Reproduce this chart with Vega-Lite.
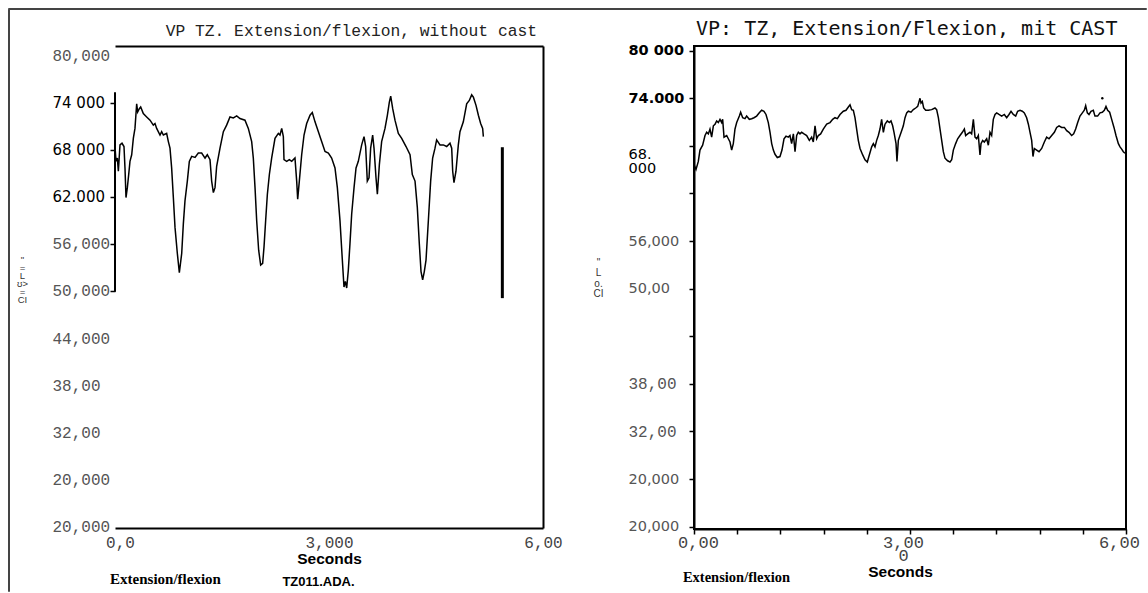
{
"$schema": "https://vega.github.io/schema/vega-lite/v6.json",
"padding": {"left": 7, "top": 7, "right": 0, "bottom": 0},
"config": {"view": {"stroke": null}, "axis": {"grid": false, "labelOverlap": false, "labelFlush": false}, "concat": {"spacing": 0}},
"datasets": {
"left": [
{"t":0.000,"v":68419},{"t":0.014,"v":66531},{"t":0.033,"v":66950},{"t":0.047,"v":65272},{"t":0.070,"v":68628},{"t":0.098,"v":68838},{"t":0.126,"v":68419},{"t":0.140,"v":65692},{"t":0.154,"v":61915},{"t":0.173,"v":63174},{"t":0.192,"v":64853},{"t":0.210,"v":66531},{"t":0.234,"v":67370},{"t":0.257,"v":69468},{"t":0.280,"v":70727},{"t":0.304,"v":73874},{"t":0.318,"v":72825},{"t":0.341,"v":73244},{"t":0.360,"v":73454},{"t":0.397,"v":72615},{"t":0.444,"v":72195},{"t":0.491,"v":71776},{"t":0.537,"v":71146},{"t":0.561,"v":71356},{"t":0.584,"v":70727},{"t":0.631,"v":69888},{"t":0.654,"v":70307},{"t":0.678,"v":69888},{"t":0.724,"v":70097},{"t":0.748,"v":69048},{"t":0.771,"v":68209},{"t":0.794,"v":65692},{"t":0.818,"v":61915},{"t":0.841,"v":58139},{"t":0.874,"v":54782},{"t":0.902,"v":52348},{"t":0.935,"v":54782},{"t":0.958,"v":58558},{"t":0.981,"v":61496},{"t":1.014,"v":64013},{"t":1.042,"v":66531},{"t":1.075,"v":67160},{"t":1.122,"v":67034},{"t":1.168,"v":67580},{"t":1.215,"v":67580},{"t":1.262,"v":66950},{"t":1.294,"v":67370},{"t":1.332,"v":66740},{"t":1.355,"v":64013},{"t":1.379,"v":62544},{"t":1.402,"v":63174},{"t":1.425,"v":65901},{"t":1.472,"v":68209},{"t":1.519,"v":70307},{"t":1.565,"v":71146},{"t":1.612,"v":72195},{"t":1.659,"v":72069},{"t":1.706,"v":72321},{"t":1.752,"v":71985},{"t":1.822,"v":71776},{"t":1.869,"v":70727},{"t":1.916,"v":69048},{"t":1.939,"v":66950},{"t":1.963,"v":63174},{"t":1.986,"v":58978},{"t":2.014,"v":55202},{"t":2.042,"v":53313},{"t":2.070,"v":53523},{"t":2.089,"v":55621},{"t":2.112,"v":58978},{"t":2.136,"v":62335},{"t":2.164,"v":64853},{"t":2.196,"v":66950},{"t":2.243,"v":69468},{"t":2.290,"v":70097},{"t":2.313,"v":69888},{"t":2.337,"v":70727},{"t":2.360,"v":69678},{"t":2.369,"v":66741},{"t":2.407,"v":66531},{"t":2.444,"v":66741},{"t":2.477,"v":66531},{"t":2.523,"v":66950},{"t":2.547,"v":64013},{"t":2.561,"v":61705},{"t":2.584,"v":64013},{"t":2.617,"v":67370},{"t":2.650,"v":69888},{"t":2.687,"v":71356},{"t":2.734,"v":72405},{"t":2.766,"v":72741},{"t":2.804,"v":71566},{"t":2.851,"v":70307},{"t":2.897,"v":69048},{"t":2.944,"v":67790},{"t":2.991,"v":67580},{"t":3.037,"v":66950},{"t":3.084,"v":65692},{"t":3.117,"v":63174},{"t":3.154,"v":58978},{"t":3.187,"v":53943},{"t":3.210,"v":50502},{"t":3.229,"v":51215},{"t":3.248,"v":50376},{"t":3.271,"v":52683},{"t":3.294,"v":56040},{"t":3.318,"v":59817},{"t":3.351,"v":63174},{"t":3.379,"v":65692},{"t":3.411,"v":66531},{"t":3.458,"v":68629},{"t":3.491,"v":69678},{"t":3.514,"v":68419},{"t":3.537,"v":64013},{"t":3.561,"v":64433},{"t":3.584,"v":68209},{"t":3.612,"v":69888},{"t":3.631,"v":68209},{"t":3.659,"v":64433},{"t":3.678,"v":62335},{"t":3.706,"v":66111},{"t":3.738,"v":69048},{"t":3.785,"v":70727},{"t":3.818,"v":72405},{"t":3.846,"v":74083},{"t":3.865,"v":74839},{"t":3.893,"v":73244},{"t":3.925,"v":71776},{"t":3.972,"v":70097},{"t":4.019,"v":69468},{"t":4.080,"v":68419},{"t":4.136,"v":67370},{"t":4.168,"v":64853},{"t":4.206,"v":64013},{"t":4.238,"v":60657},{"t":4.266,"v":56040},{"t":4.290,"v":52474},{"t":4.313,"v":51425},{"t":4.336,"v":52474},{"t":4.360,"v":53943},{"t":4.393,"v":58978},{"t":4.425,"v":64013},{"t":4.453,"v":66950},{"t":4.486,"v":68209},{"t":4.509,"v":69258},{"t":4.556,"v":68629},{"t":4.603,"v":68629},{"t":4.650,"v":68419},{"t":4.696,"v":68839},{"t":4.720,"v":68209},{"t":4.734,"v":65272},{"t":4.752,"v":63804},{"t":4.780,"v":65272},{"t":4.813,"v":68629},{"t":4.836,"v":70307},{"t":4.883,"v":71566},{"t":4.930,"v":73874},{"t":4.967,"v":74293},{"t":5.000,"v":75007},{"t":5.024,"v":74713},{"t":5.061,"v":73664},{"t":5.094,"v":72405},{"t":5.126,"v":71356},{"t":5.154,"v":70727},{"t":5.164,"v":69678}
],
"right": [
{"t":0.000,"v":65632},{"t":0.028,"v":65020},{"t":0.060,"v":66040},{"t":0.083,"v":67469},{"t":0.120,"v":68081},{"t":0.153,"v":69306},{"t":0.176,"v":69714},{"t":0.199,"v":69510},{"t":0.222,"v":70122},{"t":0.245,"v":69102},{"t":0.269,"v":70531},{"t":0.292,"v":70735},{"t":0.315,"v":71143},{"t":0.338,"v":70939},{"t":0.361,"v":71347},{"t":0.384,"v":70939},{"t":0.398,"v":71347},{"t":0.417,"v":69102},{"t":0.454,"v":69306},{"t":0.477,"v":68898},{"t":0.500,"v":68490},{"t":0.523,"v":67469},{"t":0.546,"v":68286},{"t":0.569,"v":70122},{"t":0.593,"v":70939},{"t":0.630,"v":71755},{"t":0.648,"v":72245},{"t":0.676,"v":71551},{"t":0.708,"v":71429},{"t":0.731,"v":71755},{"t":0.768,"v":71347},{"t":0.801,"v":71429},{"t":0.833,"v":71551},{"t":0.870,"v":71755},{"t":0.907,"v":72163},{"t":0.940,"v":72490},{"t":0.972,"v":72367},{"t":1.000,"v":71959},{"t":1.032,"v":70939},{"t":1.056,"v":69714},{"t":1.079,"v":68286},{"t":1.102,"v":67469},{"t":1.125,"v":66939},{"t":1.157,"v":66530},{"t":1.194,"v":66653},{"t":1.222,"v":67469},{"t":1.250,"v":68898},{"t":1.278,"v":69224},{"t":1.310,"v":69102},{"t":1.333,"v":69306},{"t":1.356,"v":68286},{"t":1.380,"v":69510},{"t":1.403,"v":67265},{"t":1.426,"v":69306},{"t":1.449,"v":69714},{"t":1.472,"v":69510},{"t":1.495,"v":69714},{"t":1.528,"v":69510},{"t":1.565,"v":69306},{"t":1.602,"v":68694},{"t":1.634,"v":69102},{"t":1.657,"v":68490},{"t":1.681,"v":70531},{"t":1.704,"v":68898},{"t":1.727,"v":69306},{"t":1.759,"v":69510},{"t":1.796,"v":70122},{"t":1.843,"v":70735},{"t":1.889,"v":70939},{"t":1.926,"v":71347},{"t":1.958,"v":71551},{"t":1.991,"v":71429},{"t":2.028,"v":71959},{"t":2.074,"v":72367},{"t":2.111,"v":72490},{"t":2.144,"v":72898},{"t":2.167,"v":73184},{"t":2.190,"v":72571},{"t":2.213,"v":72490},{"t":2.236,"v":71551},{"t":2.259,"v":70122},{"t":2.282,"v":68694},{"t":2.306,"v":67673},{"t":2.343,"v":66857},{"t":2.375,"v":66245},{"t":2.407,"v":65959},{"t":2.435,"v":66857},{"t":2.468,"v":67878},{"t":2.491,"v":68286},{"t":2.514,"v":67878},{"t":2.537,"v":68694},{"t":2.560,"v":69306},{"t":2.583,"v":70122},{"t":2.606,"v":71347},{"t":2.630,"v":69714},{"t":2.653,"v":70735},{"t":2.685,"v":71143},{"t":2.713,"v":70939},{"t":2.736,"v":71143},{"t":2.759,"v":70531},{"t":2.778,"v":69714},{"t":2.806,"v":68286},{"t":2.819,"v":66040},{"t":2.838,"v":68694},{"t":2.861,"v":69306},{"t":2.884,"v":69918},{"t":2.907,"v":70531},{"t":2.931,"v":71551},{"t":2.954,"v":72163},{"t":2.977,"v":72367},
{"t":3.014,"v":72245},{"t":3.046,"v":72571},{"t":3.079,"v":72776},{"t":3.107,"v":72980},{"t":3.139,"v":74000},{"t":3.153,"v":73388},{"t":3.171,"v":73592},{"t":3.190,"v":72776},{"t":3.218,"v":72490},{"t":3.255,"v":72490},{"t":3.301,"v":72571},{"t":3.347,"v":72776},{"t":3.370,"v":72571},{"t":3.394,"v":71551},{"t":3.417,"v":70122},{"t":3.440,"v":68694},{"t":3.463,"v":67265},{"t":3.486,"v":66449},{"t":3.523,"v":66122},{"t":3.556,"v":65959},{"t":3.579,"v":66245},{"t":3.602,"v":67469},{"t":3.634,"v":68286},{"t":3.662,"v":68898},{"t":3.694,"v":69306},{"t":3.727,"v":69714},{"t":3.755,"v":70122},{"t":3.773,"v":69306},{"t":3.801,"v":69510},{"t":3.833,"v":69714},{"t":3.856,"v":69510},{"t":3.880,"v":71347},{"t":3.903,"v":69102},{"t":3.926,"v":68898},{"t":3.949,"v":69306},{"t":3.972,"v":66857},{"t":3.986,"v":68286},{"t":4.009,"v":68694},{"t":4.032,"v":68490},{"t":4.065,"v":68898},{"t":4.088,"v":68081},{"t":4.111,"v":69714},{"t":4.134,"v":69306},{"t":4.157,"v":71347},{"t":4.181,"v":71959},{"t":4.204,"v":72163},{"t":4.236,"v":71959},{"t":4.273,"v":71755},{"t":4.310,"v":71959},{"t":4.343,"v":71551},{"t":4.375,"v":71959},{"t":4.403,"v":72367},{"t":4.435,"v":71959},{"t":4.468,"v":71755},{"t":4.495,"v":72367},{"t":4.528,"v":72490},{"t":4.560,"v":72367},{"t":4.588,"v":72163},{"t":4.620,"v":71551},{"t":4.644,"v":70735},{"t":4.667,"v":69714},{"t":4.690,"v":68694},{"t":4.708,"v":66653},{"t":4.727,"v":67673},{"t":4.759,"v":67469},{"t":4.792,"v":67265},{"t":4.829,"v":67673},{"t":4.866,"v":68490},{"t":4.898,"v":69102},{"t":4.931,"v":68898},{"t":4.968,"v":69306},{"t":5.005,"v":69714},{"t":5.037,"v":70326},{"t":5.070,"v":70531},{"t":5.106,"v":70326},{"t":5.144,"v":70326},{"t":5.176,"v":69918},{"t":5.208,"v":69714},{"t":5.245,"v":69306},{"t":5.273,"v":69510},{"t":5.301,"v":70122},{"t":5.329,"v":70939},{"t":5.361,"v":71755},{"t":5.394,"v":72163},{"t":5.421,"v":72490},{"t":5.440,"v":73061},{"t":5.463,"v":72163},{"t":5.486,"v":71959},{"t":5.514,"v":72367},{"t":5.546,"v":72490},{"t":5.569,"v":71755},{"t":5.606,"v":71755},{"t":5.639,"v":72163},{"t":5.671,"v":72245},{"t":5.699,"v":72490},{"t":5.722,"v":72980},{"t":5.745,"v":72490},{"t":5.773,"v":72245},{"t":5.801,"v":71347},{"t":5.833,"v":70326},{"t":5.861,"v":69306},{"t":5.894,"v":68286},{"t":5.917,"v":67878},{"t":5.940,"v":67592},{"t":5.963,"v":67265},{"t":5.986,"v":67061}
],
"leftbar": [{"t": 5.43, "v": 49090, "v2": 68330}],
"leftaxis": [{"t": 0, "v": 49900, "v2": 75340}],
"dot": [{"t": 5.671, "v": 74000}]
},
"vconcat": [
{"width": 1138, "height": 1, "data": {"values": []}, "mark": "rule", "encoding": {}, "view": {"stroke": "#444", "strokeWidth": 1}},
{"hconcat": [
  {"width": 1, "height": 582, "data": {"values": []}, "mark": "rule", "encoding": {}, "view": {"stroke": "#444", "strokeWidth": 1}},
  {"vconcat": [
    {"width": 1, "height": 1, "data": {"values": []}, "mark": "rule", "encoding": {}},
    {"hconcat": [
      {
        "width": 428, "height": 482,
        "title": {"text": "VP TZ. Extension/flexion, without cast", "anchor": "end", "frame": "group", "dx": -6, "font": "Liberation Mono", "fontSize": 16.3, "fontWeight": "normal", "color": "#222", "offset": 7},
        "layer": [
          {"data": {"name": "left"}, "mark": {"type": "line", "color": "#000", "strokeWidth": 1.5},
           "encoding": {
             "x": {"field": "t", "type": "quantitative", "scale": {"domain": [0, 6], "nice": false},
                   "axis": {"orient": "bottom", "values": [0, 3, 6], "labelExpr": "datum.value==0?'0,0':datum.value==3?'3,000':'6,00'", "ticks": false, "domainColor": "#000", "domainWidth": 2, "labelFont": "Liberation Mono", "labelFontSize": 16, "labelColor": "#444", "labelPadding": 6, "labelOffset": {"condition": {"test": "datum.value==0", "value": 5}, "value": 0}, "title": "Seconds", "titleFont": "Liberation Sans", "titleFontSize": 15.5, "titleFontWeight": "bold", "titleColor": "#000", "titlePadding": 1}},
             "y": {"field": "v", "type": "quantitative", "scale": {"domain": [19783, 81236], "nice": false, "zero": false},
                   "axis": {"orient": "left", "values": [20000, 26000, 32000, 38000, 44000, 50000, 56000, 62000, 68000, 74000, 80000],
                            "labelExpr": "datum.value==80000?'80,000':datum.value==74000?'74 000':datum.value==68000?'68 000':datum.value==62000?'62.000':datum.value==56000?'56,000':datum.value==50000?'50,000':datum.value==44000?'44,000':datum.value==38000?'38,00':datum.value==32000?'32,00':'20,000'",
                            "domain": false, "tickSize": 5, "tickWidth": 1.5,
                            "tickColor": {"condition": {"test": "datum.value>=50000 && datum.value<=74000", "value": "#000"}, "value": "transparent"},
                            "labelAlign": "left", "labelPadding": 58,
                            "labelFont": {"condition": {"test": "datum.value>=62000 && datum.value<=74000", "value": "DejaVu Sans"}, "value": "Liberation Mono"},
                            "labelFontSize": {"condition": {"test": "datum.value>=62000 && datum.value<=74000", "value": 15}, "value": 16},
                            "labelColor": {"condition": {"test": "datum.value>=62000 && datum.value<=74000", "value": "#000"}, "value": "#555"},
                            "title": ["\"", "=", "L", "ʊ>", "=", "CI"], "titleAngle": 360, "titleFont": "Liberation Sans", "titleFontSize": 9.5, "titleFontWeight": "normal", "titleLineHeight": 8, "titleX": -93, "titleY": 208, "titleAlign": "center", "titleBaseline": "top", "titleColor": "#333"}}
           }},
          {"data": {"name": "leftbar"}, "mark": {"type": "rule", "color": "#000", "strokeWidth": 3},
           "encoding": {
             "x": {"field": "t", "type": "quantitative", "scale": {"domain": [0, 6], "nice": false},
                   "axis": {"orient": "top", "domainColor": "#000", "domainWidth": 2, "ticks": false, "labels": false, "title": "Extension/flexion", "titleFont": "Liberation Serif", "titleFontWeight": "bold", "titleFontSize": 15, "titleColor": "#000", "titleX": 50, "titleY": 532, "titleAlign": "center", "titleBaseline": "middle", "titleAngle": 360}},
             "y": {"field": "v", "type": "quantitative", "scale": {"domain": [19783, 81236], "nice": false, "zero": false},
                   "axis": {"orient": "right", "domainColor": "#000", "domainWidth": 2, "ticks": false, "labels": false, "title": "TZ011.ADA.", "titleFont": "'Liberation Sans Narrow', 'Liberation Sans'", "titleFontWeight": "bold", "titleFontSize": 13, "titleColor": "#000", "titleX": -225, "titleY": 535, "titleAngle": 360, "titleAlign": "center", "titleBaseline": "middle"}},
             "y2": {"field": "v2"}
           }},
          {"data": {"name": "leftaxis"}, "mark": {"type": "rule", "color": "#000", "strokeWidth": 2},
           "encoding": {
             "x": {"field": "t", "type": "quantitative", "scale": {"domain": [0, 6], "nice": false}, "axis": null},
             "y": {"field": "v", "type": "quantitative", "scale": {"domain": [19783, 81236], "nice": false, "zero": false}, "axis": null},
             "y2": {"field": "v2"}
           }}
        ],
        "resolve": {"axis": {"x": "independent", "y": "independent"}}
      },
      {
        "width": 432, "height": 483,
        "view": {"stroke": "#000", "strokeWidth": 2},
        "title": {"text": "VP: TZ, Extension/Flexion, mit CAST", "anchor": "start", "frame": "group", "dx": 2, "font": "DejaVu Sans Mono", "fontSize": 20, "fontWeight": "normal", "color": "#111", "offset": 3.5},
        "layer": [
          {"data": {"name": "right"}, "mark": {"type": "line", "color": "#000", "strokeWidth": 1.5},
           "encoding": {
             "x": {"field": "t", "type": "quantitative", "scale": {"domain": [0, 6], "nice": false},
                   "axis": {"orient": "bottom", "values": [0, 0.6, 1.2, 1.8, 2.4, 3, 3.6, 4.2, 4.8, 5.4, 6], "labelExpr": "datum.value==0?'0,00':datum.value==3?['3,00','0']:datum.value==6?'6,00':''", "tickSize": 5, "tickWidth": 1.5, "tickColor": "#000", "domainColor": "#000", "domainWidth": 2, "labelFont": "Liberation Mono", "labelFontSize": 17, "labelColor": "#444", "labelPadding": 0, "labelLineHeight": 13, "labelOffset": {"condition": {"test": "datum.value==0", "value": 4}, "value": -7}, "title": "Seconds", "titleFont": "Liberation Sans", "titleFontSize": 15.5, "titleFontWeight": "bold", "titleColor": "#000", "titlePadding": 1, "titleX": 206}},
             "y": {"field": "v", "type": "quantitative", "scale": {"domain": [19698, 80592], "nice": false, "zero": false},
                   "axis": {"orient": "left", "values": [20000, 26000, 32000, 38000, 44000, 50000, 56000, 62000, 68000, 74000, 80000],
                            "labelExpr": "datum.value==80000?'80 000':datum.value==74000?'74.000':datum.value==68000?['68.','000']:datum.value==56000?'56,000':datum.value==50000?'50,00':datum.value==38000?'38,00':datum.value==32000?'32,00':(datum.value==26000||datum.value==20000)?'20,000':''",
                            "domainColor": "#000", "domainWidth": 2, "tickSize": 5, "tickWidth": 1.5, "tickColor": "#000",
                            "labelAlign": "left", "labelPadding": 61, "labelLineHeight": 14,
                            "labelOffset": {"condition": {"test": "datum.value==68000", "value": 9}, "value": 0},
                            "labelFont": {"condition": {"test": "datum.value==38000 || datum.value==32000", "value": "Liberation Mono"}, "value": "DejaVu Sans"},
                            "labelFontSize": {"condition": {"test": "datum.value==38000 || datum.value==32000", "value": 16}, "value": 14.5},
                            "labelFontWeight": {"condition": {"test": "datum.value>=74000", "value": "bold"}, "value": "normal"},
                            "labelColor": {"condition": {"test": "datum.value>=68000", "value": "#000"}, "value": "#555"},
                            "title": ["\"", "", "L", "o.", "CI"], "titleAngle": 360, "titleFont": "Liberation Sans", "titleFontSize": 10, "titleFontWeight": "normal", "titleLineHeight": 10.5, "titleX": -96, "titleY": 211, "titleAlign": "center", "titleBaseline": "top", "titleColor": "#333"}}
           }},
          {"data": {"name": "dot"}, "mark": {"type": "point", "filled": true, "color": "#000", "size": 6, "opacity": 1},
           "encoding": {
             "x": {"field": "t", "type": "quantitative", "scale": {"domain": [0, 6], "nice": false},
                   "axis": {"orient": "top", "domain": false, "ticks": false, "labels": false, "title": "Extension/flexion", "titleFont": "Liberation Serif", "titleFontWeight": "bold", "titleFontSize": 14.5, "titleColor": "#000", "titleX": 42, "titleY": 531, "titleAlign": "center", "titleBaseline": "middle", "titleAngle": 360}},
             "y": {"field": "v", "type": "quantitative", "scale": {"domain": [19698, 80592], "nice": false, "zero": false},
                   "axis": null}
           }}
        ],
        "resolve": {"axis": {"x": "independent", "y": "independent"}}
      }
    ], "spacing": 151, "bounds": "flush"}
  ], "spacing": 36, "bounds": "flush"}
], "spacing": 106, "bounds": "flush"}
],
"spacing": 0,
"bounds": "flush"
}
